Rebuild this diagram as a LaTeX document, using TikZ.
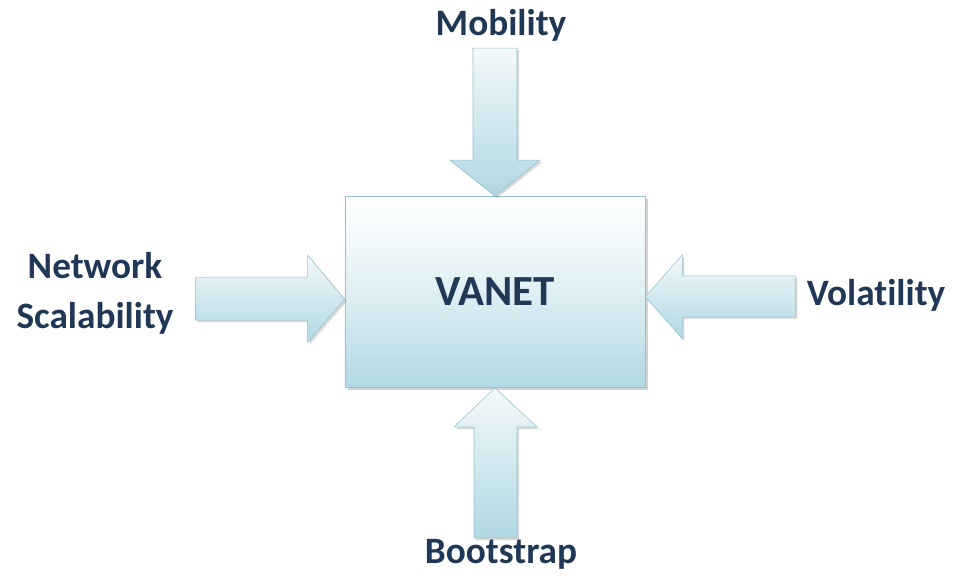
\documentclass[tikz,border=0pt]{standalone}
\usepackage{fontspec}
\setmainfont{Carlito}[Ligatures=NoCommon]
\usetikzlibrary{shadows}
\definecolor{navytext}{RGB}{33,55,86}
\definecolor{paleblue}{RGB}{176,216,227}
\definecolor{edgeblue}{RGB}{150,192,205}

\begin{document}
\begin{tikzpicture}[x=0.025cm,y=-0.025cm,
  every node/.style={text=navytext,font=\bfseries\fontsize{26.5}{35.6}\selectfont},
  box/.style={rectangle,draw=edgeblue,thin,top color=white,bottom color=paleblue,
    middle color=white!60!paleblue,drop shadow={shadow xshift=2pt,shadow yshift=-2pt,opacity=0.35}},
  blockarr/.style={draw=edgeblue,thin,top color=white!85!paleblue,bottom color=paleblue,
    drop shadow={shadow xshift=1.5pt,shadow yshift=-1.5pt,opacity=0.3}}]
  \useasboundingbox (0,0) rectangle (956,575);
  \node[box,minimum width=7.5cm,minimum height=4.78cm,font=\bfseries\fontsize{30.5}{34}\selectfont] (vanet) at (495,292) {VANET};
  \node[anchor=base] (mobility) at (501,35) {Mobility};
  \node[align=center] (netscal) at (95,293) {Network\\Scalability};
  \node[anchor=base] (volatility) at (876,305) {Volatility};
  \node[anchor=base] (bootstrap) at (501,563) {Bootstrap};
  % block arrows pointing at the box
  \path[blockarr] (vanet.north) -- ++(-45,-36) -- ++(23,0) -- ++(0,-112) -- ++(44,0)
    -- ++(0,112) -- ++(23,0) -- cycle;
  \path[blockarr] ([yshift=-0.18cm]vanet.west) -- ++(-37,-44) -- ++(0,22) -- ++(-112,0)
    -- ++(0,43) -- ++(112,0) -- ++(0,22) -- cycle;
  \path[blockarr] ([yshift=-0.12cm]vanet.east) -- ++(37,-42) -- ++(0,21) -- ++(113,0)
    -- ++(0,41) -- ++(-113,0) -- ++(0,22) -- cycle;
  \path[blockarr] (vanet.south) -- ++(-41,39) -- ++(20,0) -- ++(0,111) -- ++(43,0)
    -- ++(0,-111) -- ++(20,0) -- cycle;
\end{tikzpicture}
\end{document}
